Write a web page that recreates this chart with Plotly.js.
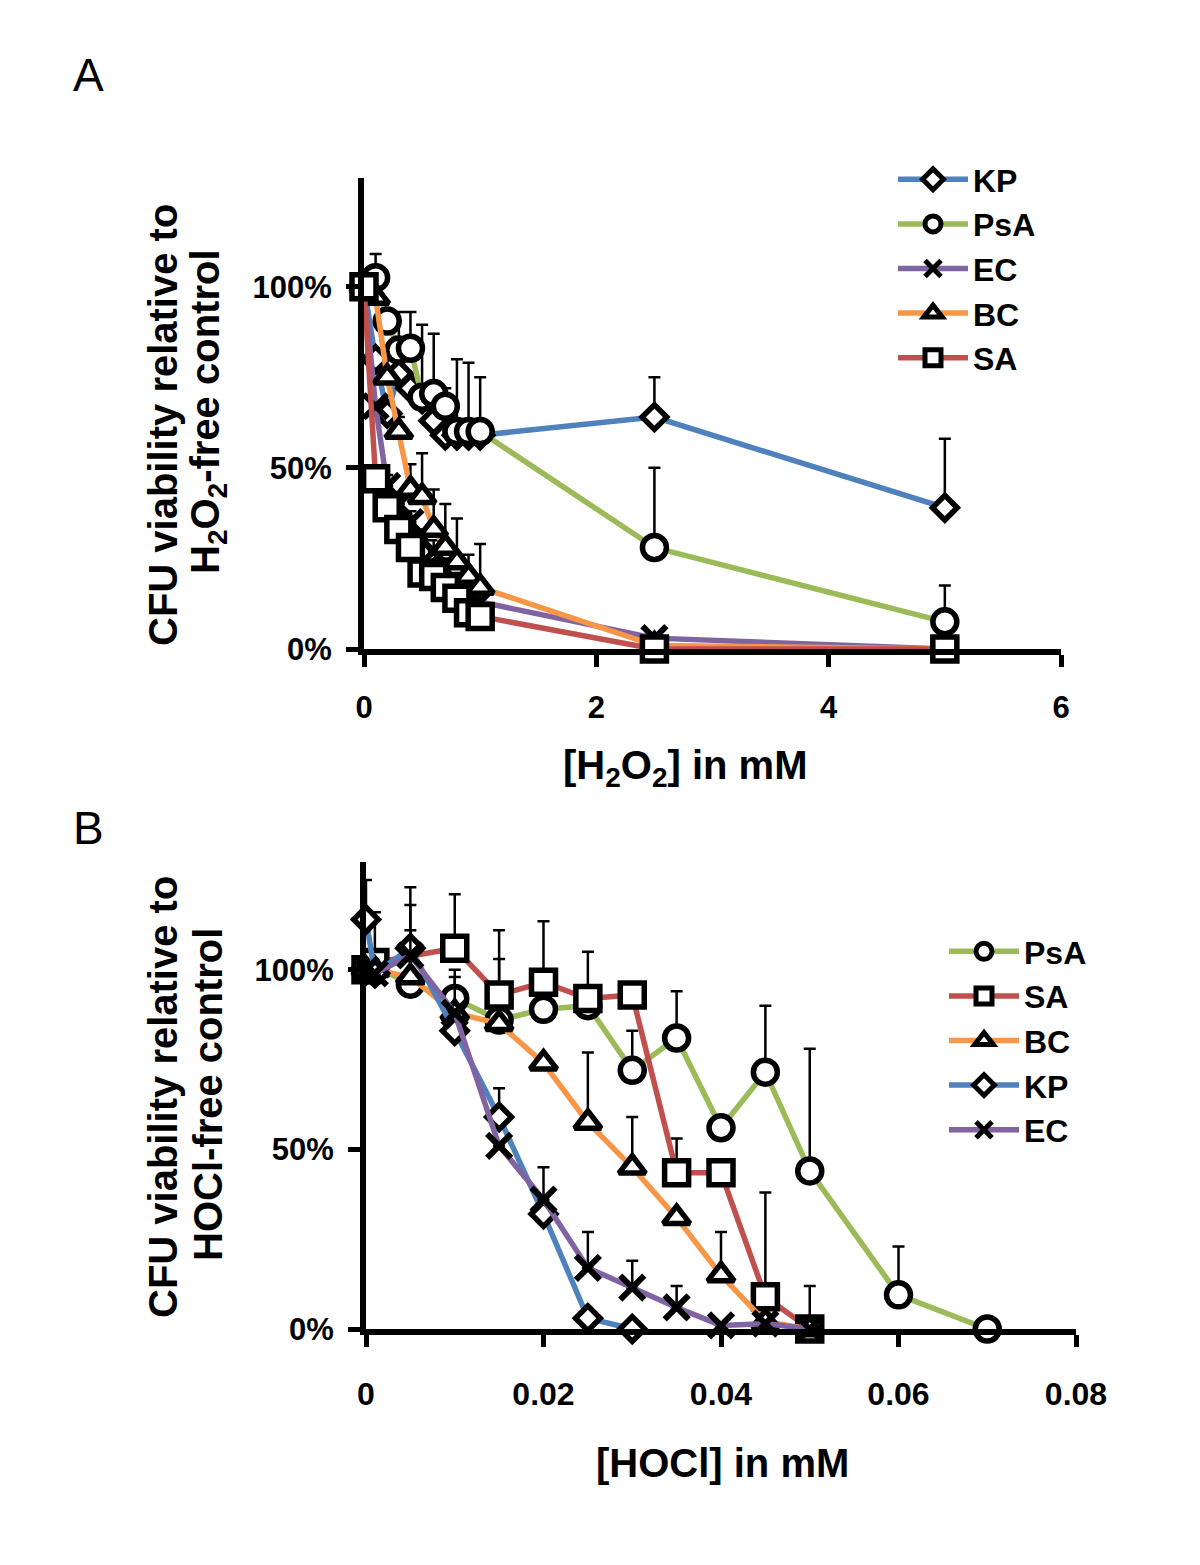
<!DOCTYPE html>
<html>
<head>
<meta charset="utf-8">
<script src="https://cdn.plot.ly/plotly-3.0.1.min.js"></script>
<style>html,body{margin:0;padding:0;background:#fff;}#chart{width:1200px;height:1565px;}</style>
</head>
<body>
<div id="chart"></div>
<script>
// ---------- Panel A: H2O2 (mM) ----------
const xA = [0, 0.1, 0.2, 0.3, 0.4, 0.5, 0.6, 0.7, 0.8, 0.9, 1.0, 2.5, 5];
const kpA  = [100, 80, 65, 76, 72, 69, 63, 59, 59, 59, 59, 64, 39];
const psaA = [100, 102.5, 90.5, 82.5, 83, 69.5, 70.5, 67, 60, 60, 60, 28, 7.5];
const ecA  = [100, 67, 45, 40, 35, 30, 27, 22, 18, 15, 13, 3, 0];
const bcA  = [100, 97, 75, 60, 44, 42, 33, 28, 24, 20, 17, 1, 0];
const saA  = [100, 47, 39, 33, 28, 21, 20, 17, 14, 10, 9, 0, 0];
const kpAerr  = [0, 0, 0, 0, 0, 0, 0, 0, 0, 0, 0, 11, 19];
const psaAerr = [0, 6.5, 3, 10.5, 10, 20, 16.5, 5, 20, 19, 15, 22, 10];
const ecAerr  = [0, 0, 3, 3, 3, 3, 3, 3, 3, 3, 3, 0, 0];
const bcAerr  = [0, 3, 0, 4, 7, 12, 11, 12, 12, 6, 12, 0, 0];
const saAerr  = [0, 0, 0, 0, 0, 0, 0, 0, 0, 0, 0, 0, 0];
const xTicksA = [0, 2, 4, 6];

// ---------- Panel B: HOCl (mM) ----------
const psaBx = [0, 0.001, 0.005, 0.01, 0.015, 0.02, 0.025, 0.03, 0.035, 0.04, 0.045, 0.05, 0.06, 0.07];
const psaB  = [100, 101, 96, 92, 86, 89, 90, 72, 81, 56, 71.5, 44, 9.5, 0];
const psaBerr = [0, 0, 15, 8, 17, 0, 0, 11, 13, 0, 18.5, 34, 13.5, 0];
const saBx = [0, 0.001, 0.01, 0.015, 0.02, 0.025, 0.03, 0.035, 0.04, 0.045, 0.05];
const saB  = [100, 102, 106, 93, 96.5, 92, 93, 43.5, 43.5, 9, 0];
const saBerr = [0, 14, 15, 18, 17, 13, 0, 9.5, 0, 29, 12];
const bcBx = [0, 0.001, 0.005, 0.01, 0.015, 0.02, 0.025, 0.03, 0.035, 0.04, 0.045, 0.05];
const bcB  = [100, 100, 98, 88, 85, 74, 57.5, 45, 31, 15, 2, 0];
const bcBerr = [0, 0, 0, 10, 0, 0, 19.5, 14, 0, 12, 0, 0];
const kpBx = [0, 0.001, 0.005, 0.01, 0.015, 0.02, 0.025, 0.03];
const kpB  = [114, 99, 106, 83, 59, 32, 3, 0];
const kpBerr = [11, 0, 17, 0, 8, 0, 0, 0];
const ecBx = [0, 0.001, 0.005, 0.01, 0.015, 0.02, 0.025, 0.03, 0.035, 0.04, 0.045, 0.05];
const ecB  = [100, 99, 104, 88, 51, 36, 17, 11.5, 6, 1, 1.5, 0];
const ecBerr = [0, 0, 14, 0, 0, 9, 10, 7.5, 6, 0, 0, 0];
const xTicksB = [0, 0.02, 0.04, 0.06, 0.08];
const xTickTextB = ['0', '0.02', '0.04', '0.06', '0.08'];
const yTicks = [0, 50, 100];
const yTickText = ['0%', '50%', '100%'];

const FONT = 'Liberation Sans, Arial, sans-serif';
const colors = {KP:'#4F81BD', PsA:'#9BBB59', EC:'#8064A2', BC:'#F79646', SA:'#C0504D'};
const symbols = {
  KP:{symbol:'diamond', size:19},
  PsA:{symbol:'circle', size:24},
  EC:{symbol:'x-thin-open', size:24},
  BC:{symbol:'triangle-up', size:23},
  SA:{symbol:'square', size:24}
};

function mk(name, x, y, err, xa, ya, legend) {
  const s = symbols[name];
  const isX = name === 'EC';
  return {
    type:'scatter', mode:'lines+markers', name:name, x:x, y:y,
    xaxis:xa, yaxis:ya, legend:legend, cliponaxis:false,
    line:{color:colors[name], width:5.5},
    marker:{symbol:s.symbol, size:s.size, color: isX ? 'black' : 'white',
            line:{color:'black', width: isX ? 6 : 5.5}},
    error_y:{type:'data', symmetric:false, array:err, arrayminus:err.map(()=>0),
             color:'black', thickness:2.5, width:6}
  };
}

const traces = [
  mk('KP',  xA, kpA,  kpAerr,  'x', 'y', 'legend'),
  mk('PsA', xA, psaA, psaAerr, 'x', 'y', 'legend'),
  mk('EC',  xA, ecA,  ecAerr,  'x', 'y', 'legend'),
  mk('BC',  xA, bcA,  bcAerr,  'x', 'y', 'legend'),
  mk('SA',  xA, saA,  saAerr,  'x', 'y', 'legend'),
  mk('PsA', psaBx, psaB, psaBerr, 'x2', 'y2', 'legend2'),
  mk('SA',  saBx,  saB,  saBerr,  'x2', 'y2', 'legend2'),
  mk('BC',  bcBx,  bcB,  bcBerr,  'x2', 'y2', 'legend2'),
  mk('KP',  kpBx,  kpB,  kpBerr,  'x2', 'y2', 'legend2'),
  mk('EC',  ecBx,  ecB,  ecBerr,  'x2', 'y2', 'legend2')
];

const W = 1200, H = 1565;
const px = v => v / W;
const py = v => 1 - v / H;

function axisStyle(extra) {
  return Object.assign({
    showline:true, linewidth:6, linecolor:'black', mirror:false,
    ticks:'outside', ticklen:12, tickwidth:5, tickcolor:'black',
    showgrid:false, zeroline:false, fixedrange:true,
    tickfont:{family:FONT, size:31, color:'black', weight:'bold'}
  }, extra);
}

const legendCommon = {
  font:{family:FONT, size:32, color:'black', weight:'bold'},
  bgcolor:'rgba(0,0,0,0)', borderwidth:0, itemwidth:70,
  xanchor:'left', yanchor:'top', traceorder:'normal', tracegroupgap:0
};

const titleFont = {family:FONT, size:40, color:'black', weight:'bold'};

const layout = {
  width:W, height:H, margin:{l:0, r:0, t:0, b:0},
  paper_bgcolor:'white', plot_bgcolor:'white',
  showlegend:true,
  xaxis: axisStyle({domain:[px(364), px(1061)], range:[0, 6], tickmode:'array', tickvals:xTicksA,
                    ticktext:xTicksA.map(String), anchor:'y', ticklabelstandoff:14}),
  yaxis: axisStyle({domain:[py(649), py(178)], range:[0, 130], tickmode:'array', tickvals:yTicks,
                    ticktext:yTickText, anchor:'x', ticklabelstandoff:8}),
  xaxis2: axisStyle({domain:[px(366), px(1076)], range:[0, 0.08], tickmode:'array', tickvals:xTicksB,
                     ticktext:xTickTextB, anchor:'y2', ticklabelstandoff:20,
                     tickfont:{family:FONT, size:32, color:'black', weight:'bold'}}),
  yaxis2: axisStyle({domain:[py(1329), py(862)], range:[0, 130], tickmode:'array', tickvals:yTicks,
                     ticktext:yTickText, anchor:'x2', ticklabelstandoff:8}),
  legend: Object.assign({}, legendCommon, {x:px(893), y:py(152)}),
  legend2: Object.assign({}, legendCommon, {x:px(944), y:py(924)}),
  annotations: [
    {text:'A', xref:'paper', yref:'paper', x:px(88), y:py(75), showarrow:false,
     xanchor:'center', yanchor:'middle', font:{family:FONT, size:46, color:'black'}},
    {text:'B', xref:'paper', yref:'paper', x:px(88), y:py(828), showarrow:false,
     xanchor:'center', yanchor:'middle', font:{family:FONT, size:46, color:'black'}},
    {text:'CFU viability relative to', xref:'paper', yref:'paper', x:px(163), y:py(425),
     showarrow:false, textangle:-90, xanchor:'center', yanchor:'middle', font:titleFont},
    {text:'H<sub>2</sub>O<sub>2</sub>-free control', xref:'paper', yref:'paper', x:px(208), y:py(412),
     showarrow:false, textangle:-90, xanchor:'center', yanchor:'middle', font:titleFont},
    {text:'[H<sub>2</sub>O<sub>2</sub>] in mM', xref:'paper', yref:'paper', x:px(685), y:py(768),
     showarrow:false, xanchor:'center', yanchor:'middle', font:titleFont},
    {text:'CFU viability relative to', xref:'paper', yref:'paper', x:px(163), y:py(1097),
     showarrow:false, textangle:-90, xanchor:'center', yanchor:'middle', font:titleFont},
    {text:'HOCl-free control', xref:'paper', yref:'paper', x:px(208), y:py(1095),
     showarrow:false, textangle:-90, xanchor:'center', yanchor:'middle', font:titleFont},
    {text:'[HOCl] in mM', xref:'paper', yref:'paper', x:px(722), y:py(1463),
     showarrow:false, xanchor:'center', yanchor:'middle', font:titleFont}
  ]
};

Plotly.newPlot('chart', traces, layout, {staticPlot:true, displayModeBar:false});
</script>
</body>
</html>
